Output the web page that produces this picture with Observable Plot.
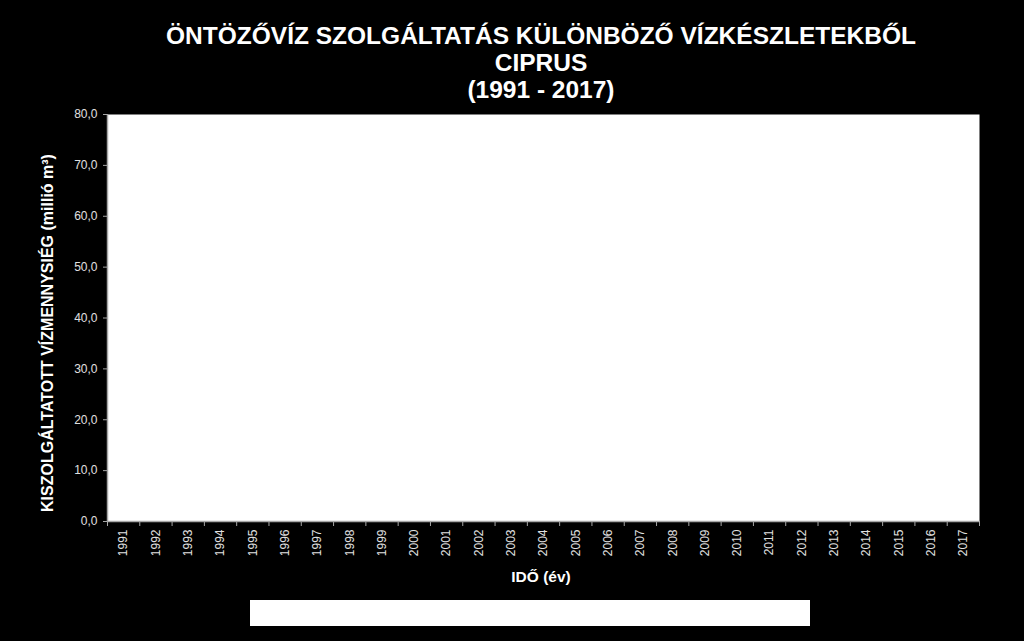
<!DOCTYPE html>
<html>
<head>
<meta charset="utf-8">
<script src="https://cdn.jsdelivr.net/npm/d3@7"></script>
<script src="https://cdn.jsdelivr.net/npm/@observablehq/plot@0.6"></script>
<style>
  html, body { margin: 0; padding: 0; background: #000; }
  #wrap { position: relative; width: 1024px; height: 641px; background: #000; overflow: hidden; font-family: "Liberation Sans", Arial, sans-serif; }
  #title { position: absolute; left: 0; width: 1082px; top: 22px; text-align: center; color: #fff; font-family: "Liberation Sans", Arial, sans-serif; font-weight: bold; font-size: 24.5px; line-height: 27px; }
  #ytitle { position: absolute; left: 48px; top: 333px; transform: translate(-50%, -50%) rotate(-90deg); white-space: nowrap; color: #fff; font-weight: bold; font-size: 16px; }
  #xtitle { position: absolute; left: 541px; top: 577px; transform: translate(-50%, -50%); white-space: nowrap; color: #fff; font-weight: bold; font-size: 15.5px; }
  #legend { position: absolute; left: 250px; top: 600px; width: 560px; height: 26px; background: #fff; }
  #chart { position: absolute; left: 0; top: 0; }
</style>
</head>
<body>
<div id="wrap">
  <div id="chart"></div>
  <div id="title"></div>
  <div id="ytitle"></div>
  <div id="xtitle"></div>
  <div id="legend"></div>
</div>
<script>
// ---- data (no values are drawn in the reference chart) ----
const titleLines = ["ÖNTÖZŐVÍZ SZOLGÁLTATÁS KÜLÖNBÖZŐ VÍZKÉSZLETEKBŐL", "CIPRUS", "(1991 - 2017)"];
const yLabel = "KISZOLGÁLTATOTT  VÍZMENNYSIÉG (millió m³)";
const xLabel = "IDŐ (év)";
const years = [1991,1992,1993,1994,1995,1996,1997,1998,1999,2000,2001,2002,2003,2004,2005,2006,2007,2008,2009,2010,2011,2012,2013,2014,2015,2016,2017];
const yTicks = [0,10,20,30,40,50,60,70,80];
const supplied = [null,null,null,null,null,null,null,null,null,null,null,null,null,null,null,null,null,null,null,null,null,null,null,null,null,null,null];

const rows = years.map((y, i) => ({year: y, value: supplied[i]})).filter(d => d.value != null);
const edges = years.map(y => y - 0.5).concat([years[years.length - 1] + 0.5]);
const fmt = d => d.toFixed(1).replace(".", ",");

document.getElementById("title").innerHTML = titleLines.join("<br>");
document.getElementById("ytitle").textContent = yLabel;
document.getElementById("xtitle").textContent = xLabel;

const axisColor = "#a6a6a6";
const labelColor = "#e0e0e0";

const chart = Plot.plot({
  width: 1024,
  height: 641,
  marginTop: 114,
  marginBottom: 120,
  marginLeft: 107,
  marginRight: 45,
  style: {background: "transparent", color: labelColor, fontFamily: "'Liberation Sans', Arial, sans-serif", fontSize: "12px"},
  x: {type: "linear", domain: [edges[0], edges[edges.length - 1]]},
  y: {domain: [0, 80]},
  marks: [
    Plot.frame({fill: "#fff", stroke: null}),
    Plot.rectY(rows, {x1: d => d.year - 0.5, x2: d => d.year + 0.5, y: "value", fill: "#4f81bd"}),
    Plot.ruleY([0], {stroke: axisColor, strokeWidth: 1.5}),
    Plot.ruleX([edges[0]], {stroke: axisColor, strokeWidth: 1.5}),
    Plot.axisY({ticks: yTicks, tickFormat: fmt, tickSize: 4, tickPadding: 6, stroke: axisColor, fill: labelColor, label: null, fontSize: 12}),
    Plot.axisX({ticks: edges, tickFormat: () => "", tickSize: 5, stroke: axisColor, label: null}),
    Plot.axisX({ticks: years, tickFormat: d => String(d), tickSize: 0, tickPadding: 8, tickRotate: -90, fill: labelColor, label: null, fontSize: 12})
  ]
});
document.getElementById("chart").appendChild(chart);
</script>
</body>
</html>
